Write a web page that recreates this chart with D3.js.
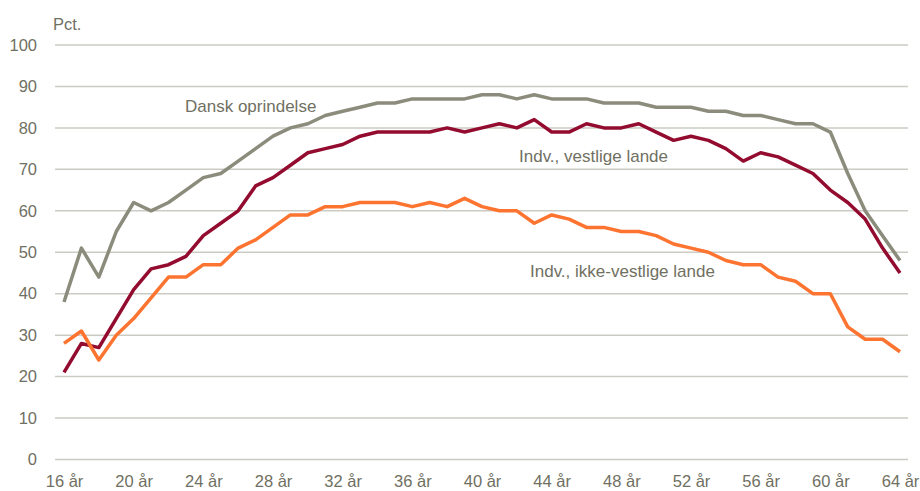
<!DOCTYPE html>
<html>
<head>
<meta charset="utf-8">
<script src="https://cdn.jsdelivr.net/npm/d3@7"></script>
<style>
body { margin: 0; background: #fff; }
text { font-family: "Liberation Sans", Arial, sans-serif; fill: #707062; }
</style>
</head>
<body>
<script>
var margin = {top: 45, right: 12, bottom: 32, left: 55},
width = 920 - margin.left - margin.right,
height = 491 - margin.top - margin.bottom;

// alder 16-64
var ages = d3.range(16, 65);
var xTicks = [16, 20, 24, 28, 32, 36, 40, 44, 48, 52, 56, 60, 64];
var yTicks = [0, 10, 20, 30, 40, 50, 60, 70, 80, 90, 100];

var dansk = [38, 51, 44, 55, 62, 60, 62, 65, 68, 69, 72, 75, 78, 80, 81, 83, 84, 85, 86, 86,
  87, 87, 87, 87, 88, 88, 87, 88, 87, 87, 87, 86, 86, 86, 85, 85, 85, 84, 84, 83,
  83, 82, 81, 81, 79, 69, 60, 54, 48];
var vestlige = [21, 28, 27, 34, 41, 46, 47, 49, 54, 57, 60, 66, 68, 71, 74, 75, 76, 78, 79, 79,
  79, 79, 80, 79, 80, 81, 80, 82, 79, 79, 81, 80, 80, 81, 79, 77, 78, 77, 75, 72,
  74, 73, 71, 69, 65, 62, 58, 51, 45];
var ikkeVestlige = [28, 31, 24, 30, 34, 39, 44, 44, 47, 47, 51, 53, 56, 59, 59, 61, 61, 62, 62, 62,
  61, 62, 61, 63, 61, 60, 60, 57, 59, 58, 56, 56, 55, 55, 54, 52, 51, 50, 48, 47,
  47, 44, 43, 40, 40, 32, 29, 29, 26];

var series = [
  {name: "Dansk oprindelse", values: dansk, color: "#8c8c7d", lx: 185, ly: 112},
  {name: "Indv., vestlige lande", values: vestlige, color: "#930c2f", lx: 519, ly: 162},
  {name: "Indv., ikke-vestlige lande", values: ikkeVestlige, color: "#fd7431", lx: 530, ly: 277}
];

var svg = d3.select("body").append("svg")
  .attr("width", 920)
  .attr("height", 491);

var g = svg.append("g")
  .attr("transform", "translate(" + margin.left + "," + margin.top + ")");

var x = d3.scaleLinear().domain([16, 64]).range([9, width - 8]);
var y = d3.scaleLinear().domain([0, 100]).range([height + 0.5, 0]);

// gitterlinjer
g.append("g")
  .selectAll("line")
  .data(yTicks)
  .enter().append("line")
  .attr("x1", 0)
  .attr("x2", width)
  .attr("y1", function(d) { return y(d); })
  .attr("y2", function(d) { return y(d); })
  .attr("stroke", "#cbcbc3")
  .attr("stroke-width", 1.5);

// y-akse
var yAxis = d3.axisLeft(y).tickValues(yTicks).tickSize(0).tickPadding(18);
g.append("g").call(yAxis)
  .call(function(s) { s.select(".domain").remove(); })
  .selectAll("text")
  .style("font-size", "16.5px")
  .style("fill", "#707062");

// x-akse
var xAxis = d3.axisBottom(x).tickValues(xTicks).tickSize(0).tickPadding(16)
  .tickFormat(function(d) { return d + " år"; });
g.append("g")
  .attr("transform", "translate(0," + height + ")")
  .call(xAxis)
  .call(function(s) { s.select(".domain").remove(); })
  .selectAll("text")
  .style("font-size", "16.5px")
  .style("fill", "#707062");

svg.append("text")
  .attr("x", 53)
  .attr("y", 30)
  .style("font-size", "16.5px")
  .text("Pct.");

var line = d3.line()
  .x(function(d, i) { return x(ages[i]); })
  .y(function(d) { return y(d); });

series.forEach(function(s) {
  g.append("path")
    .datum(s.values)
    .attr("fill", "none")
    .attr("stroke", s.color)
    .attr("stroke-width", 3.5)
    .attr("stroke-linejoin", "round")
    .attr("d", line);
  svg.append("text")
    .attr("x", s.lx)
    .attr("y", s.ly)
    .style("font-size", "17px")
    .text(s.name);
});
</script>
</body>
</html>
